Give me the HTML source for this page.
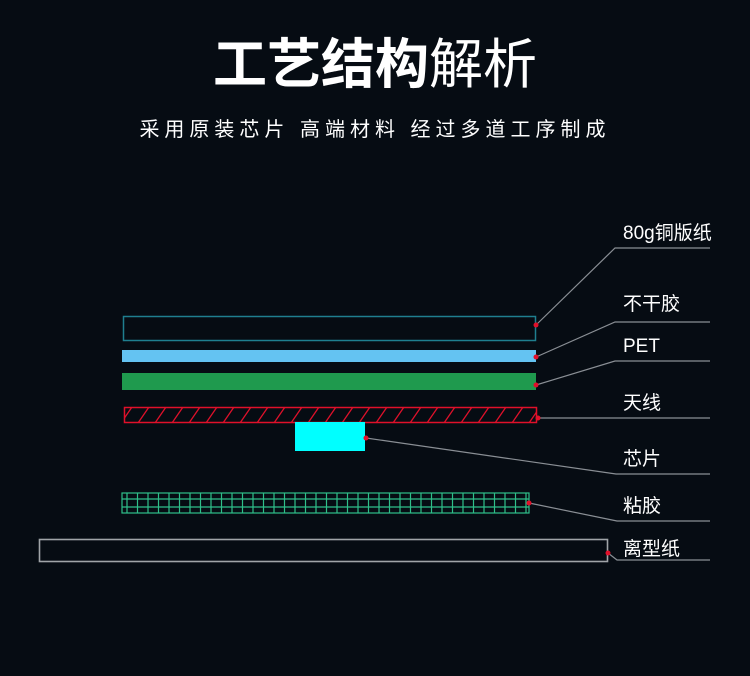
<!DOCTYPE html>
<html><head><meta charset="utf-8"><style>
html,body{margin:0;padding:0;background:#060c13;}
svg{display:block}
</style></head><body>
<svg width="750" height="676" viewBox="0 0 750 676" xmlns="http://www.w3.org/2000/svg">
<defs>
<pattern id="hatch" x="0" y="407" width="17" height="16" patternUnits="userSpaceOnUse">
<line x1="2" y1="16" x2="13" y2="0" stroke="#e0102a" stroke-width="1.3"/>
</pattern>
<pattern id="grid" x="122" y="493" width="10.5" height="20" patternUnits="userSpaceOnUse">
<line x1="5" y1="0" x2="5" y2="20" stroke="#2fbf8a" stroke-width="1.2"/>
</pattern>
</defs>
<rect width="750" height="676" fill="#060c13"/>
<text x="375" y="83" text-anchor="middle" fill="#fff" font-family="'Liberation Sans','Noto Sans CJK SC',sans-serif" font-size="54"><tspan font-weight="bold">工艺结构</tspan><tspan>解析</tspan></text>
<text x="375" y="136" text-anchor="middle" fill="#fff" font-family="'Liberation Sans','Noto Sans CJK SC',sans-serif" font-size="20" letter-spacing="5">采用原装芯片 高端材料 经过多道工序制成</text>

<rect x="123.5" y="316.5" width="412" height="24" fill="none" stroke="#1f7f8f" stroke-width="1.5"/>
<rect x="122" y="350" width="414" height="12" fill="#64c3f2"/>
<rect x="122" y="373" width="414" height="17" fill="#1f9a4e"/>
<rect x="124.5" y="407.5" width="412" height="15" fill="url(#hatch)" stroke="#e0102a" stroke-width="1.5"/>
<rect x="295" y="422" width="70" height="29" fill="#00ffff"/>
<rect x="122" y="493" width="407" height="20" fill="url(#grid)" stroke="#2fbf8a" stroke-width="1.2"/>
<line x1="122" y1="499" x2="529" y2="499" stroke="#2fbf8a" stroke-width="1.2"/>
<line x1="122" y1="507" x2="529" y2="507" stroke="#2fbf8a" stroke-width="1.2"/>
<rect x="39.5" y="539.5" width="568" height="22" fill="none" stroke="#a0a4a8" stroke-width="1.6"/>

<g stroke="#8a8f95" stroke-width="1.2" fill="none">
<polyline points="536,325 615,248 710,248"/>
<polyline points="536,357 615,322 710,322"/>
<polyline points="536,385 615,361 710,361"/>
<polyline points="538,418 710,418"/>
<polyline points="366,438 616,474 710,474"/>
<polyline points="529,503 617,521 710,521"/>
<polyline points="608,553 617,560 710,560"/>
</g>
<g fill="#e0102a">
<circle cx="536" cy="325" r="2.5"/><circle cx="536" cy="357" r="2.5"/><circle cx="536" cy="385" r="2.5"/>
<circle cx="538" cy="418" r="2.5"/><circle cx="366" cy="438" r="2.5"/><circle cx="529" cy="503" r="2.5"/><circle cx="608" cy="553" r="2.5"/>
</g>
<g fill="#fff" font-family="'Liberation Sans','Noto Sans CJK SC',sans-serif" font-size="19">
<text x="623" y="239">80g铜版纸</text>
<text x="623" y="310">不干胶</text>
<text x="623" y="352">PET</text>
<text x="623" y="409">天线</text>
<text x="623" y="465">芯片</text>
<text x="623" y="512">粘胶</text>
<text x="623" y="555">离型纸</text>
</g>
</svg>
</body></html>
